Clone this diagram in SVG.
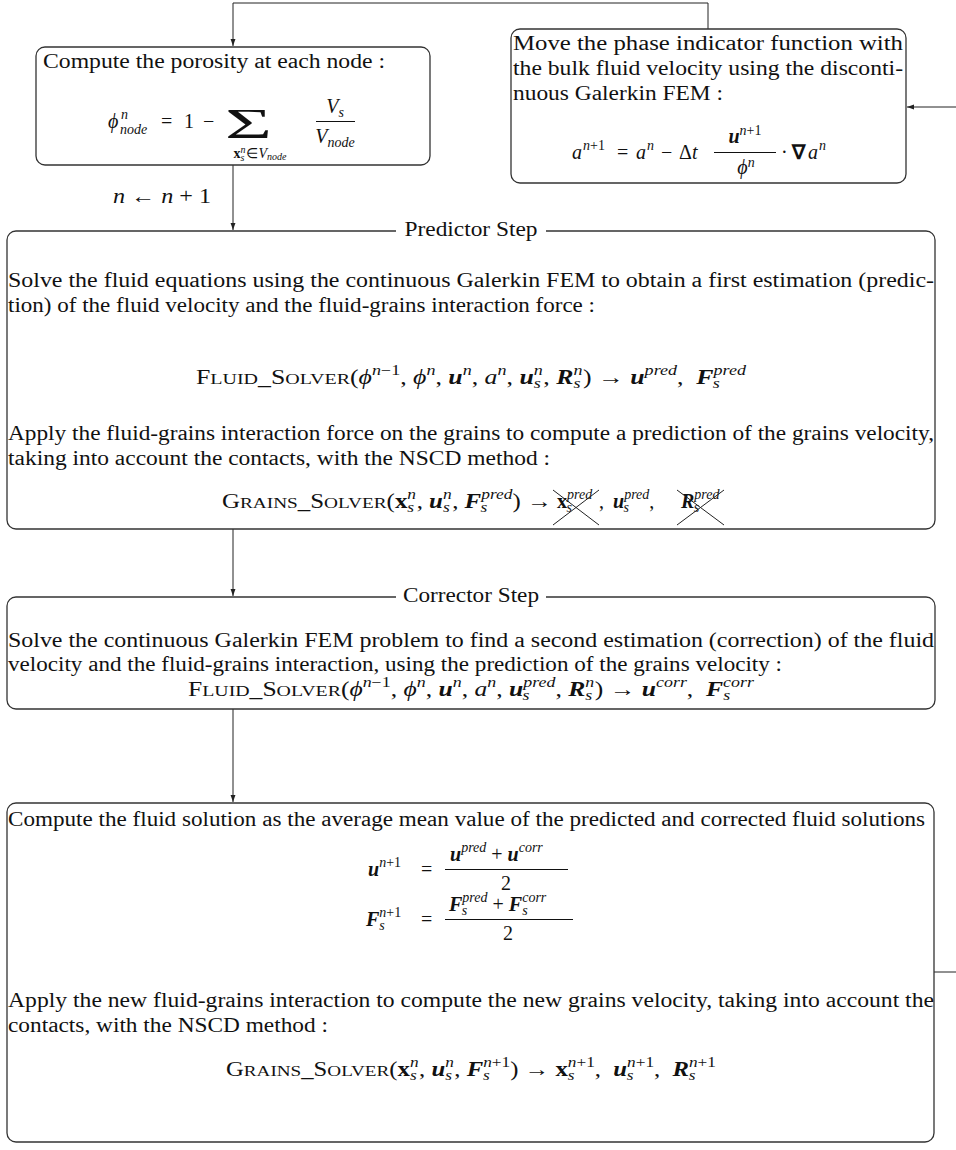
<svg xmlns="http://www.w3.org/2000/svg" width="956" height="1150" viewBox="0 0 956 1150">
<defs>
<style>
.box{fill:none;stroke:#333;stroke-width:1.3}
.conn{fill:none;stroke:#222;stroke-width:1}
.tx{font-family:"Liberation Serif","Times New Roman",serif;font-size:20px;fill:#111}
.mi{font-style:italic}
.bi{font-style:italic;font-weight:bold}
.bu{font-weight:bold}
.sc{font-size:15.5px}
.sp{font-size:14px}
.ss{font-size:10px}
.bar{stroke:#111;stroke-width:1}
.xo{stroke:#222;stroke-width:1}
.gap{fill:#fff}
</style>
<marker id="ah" viewBox="0 0 10 10" refX="10" refY="5" markerWidth="8" markerHeight="7" orient="auto" markerUnits="userSpaceOnUse"><path d="M0,1.5 L10,5 L0,8.5 z" fill="#222"/></marker>
</defs>
<rect width="956" height="1150" fill="#fff"/>

<g id="connectors">
<path class="conn" d="M708,29 V3 H233 V46" marker-end="url(#ah)"/>
<path class="conn" d="M233,165 V230" marker-end="url(#ah)"/>
<path class="conn" d="M233,529 V596" marker-end="url(#ah)"/>
<path class="conn" d="M233,709 V802" marker-end="url(#ah)"/>
<path class="conn" d="M934,972 H956"/>
<path class="conn" d="M956,107 H907" marker-end="url(#ah)"/>
<text class="tx" x="113" y="203" textLength="98" lengthAdjust="spacingAndGlyphs"><tspan class="mi">n</tspan> ← <tspan class="mi">n</tspan> + 1</text>
</g>

<g id="node-porosity">
<rect class="box" x="36" y="47" width="394" height="118" rx="9"/>
<text class="tx" x="43" y="68" textLength="342" lengthAdjust="spacingAndGlyphs">Compute the porosity at each node :</text>
<text class="tx mi" x="108" y="128">ϕ</text>
<text class="tx mi sp" x="121" y="119">n</text>
<text class="tx mi sp" x="120" y="134">node</text>
<text class="tx" x="161" y="128">=</text>
<text class="tx" x="184" y="128">1</text>
<text class="tx" x="203" y="128">−</text>
<text class="tx" x="225" y="138" style="font-size:42px" textLength="47" lengthAdjust="spacingAndGlyphs">Σ</text>
<text class="tx sp" x="260" y="158" text-anchor="middle"><tspan class="bu">x</tspan><tspan class="mi ss" dy="-5">n</tspan><tspan class="mi ss" dx="-5" dy="8">s</tspan><tspan dx="2" dy="-3">∈</tspan><tspan class="mi">V</tspan><tspan class="mi ss" dy="2">node</tspan></text>
<text class="tx mi" x="335" y="113" text-anchor="middle">V<tspan class="sp" dy="4">s</tspan></text>
<line class="bar" x1="316" y1="121.5" x2="355" y2="121.5"/>
<text class="tx mi" x="335" y="143" text-anchor="middle">V<tspan class="sp" dy="4">node</tspan></text>
</g>

<g id="node-phase">
<rect class="box" x="511" y="29" width="395" height="154" rx="9"/>
<text class="tx" x="513" y="50" textLength="390" lengthAdjust="spacingAndGlyphs">Move the phase indicator function with</text>
<text class="tx" x="513" y="75" textLength="390" lengthAdjust="spacingAndGlyphs">the bulk fluid velocity using the disconti-</text>
<text class="tx" x="513" y="100" textLength="210" lengthAdjust="spacingAndGlyphs">nuous Galerkin FEM :</text>
<text class="tx mi" x="572" y="159">a</text>
<text class="tx sp" x="583" y="150"><tspan class="mi">n</tspan>+1</text>
<text class="tx" x="617" y="159">=</text>
<text class="tx mi" x="636" y="159">a</text>
<text class="tx mi sp" x="647" y="150">n</text>
<text class="tx" x="661" y="159">−</text>
<text class="tx" x="679" y="159">Δ<tspan class="mi">t</tspan></text>
<text class="tx" x="745" y="143" text-anchor="middle"><tspan class="bi">u</tspan><tspan class="sp" dy="-8"><tspan class="mi">n</tspan>+1</tspan></text>
<line class="bar" x1="714" y1="152.5" x2="776" y2="152.5"/>
<text class="tx" x="746" y="174" text-anchor="middle"><tspan class="mi">ϕ</tspan><tspan class="mi sp" dy="-7">n</tspan></text>
<text class="tx" x="781" y="159">·</text>
<text class="tx bu" x="792" y="159">∇</text>
<text class="tx mi" x="808" y="159">a</text>
<text class="tx mi sp" x="819" y="150">n</text>
</g>

<g id="node-predictor">
<rect class="box" x="7" y="231" width="928" height="298" rx="9"/>
<rect class="gap" x="396" y="224" width="150" height="14"/>
<text class="tx" x="471" y="236" text-anchor="middle" textLength="133" lengthAdjust="spacingAndGlyphs">Predictor Step</text>
<text class="tx" x="8" y="287" textLength="926" lengthAdjust="spacingAndGlyphs">Solve the fluid equations using the continuous Galerkin FEM to obtain a first estimation (predic-</text>
<text class="tx" x="8" y="312" textLength="587" lengthAdjust="spacingAndGlyphs">tion) of the fluid velocity and the fluid-grains interaction force :</text>
<text class="tx" x="196" y="384" textLength="550" lengthAdjust="spacingAndGlyphs">F<tspan class="sc">LUID</tspan>_S<tspan class="sc">OLVER</tspan>(<tspan class="mi">ϕ</tspan><tspan class="sp" dy="-9"><tspan class="mi">n</tspan>−1</tspan><tspan dy="9">, </tspan><tspan class="mi">ϕ</tspan><tspan class="mi sp" dy="-9">n</tspan><tspan dy="9">, </tspan><tspan class="bi">u</tspan><tspan class="mi sp" dy="-9">n</tspan><tspan dy="9">, </tspan><tspan class="mi">a</tspan><tspan class="mi sp" dy="-9">n</tspan><tspan dy="9">, </tspan><tspan class="bi">u</tspan><tspan class="mi sp" dy="-9">n</tspan><tspan class="mi sp" dx="-7" dy="13">s</tspan><tspan dx="2" dy="-4">, </tspan><tspan class="bi">R</tspan><tspan class="mi sp" dy="-9">n</tspan><tspan class="mi sp" dx="-7" dy="13">s</tspan><tspan dx="2" dy="-4">) → </tspan><tspan class="bi">u</tspan><tspan class="mi sp" dy="-9">pred</tspan><tspan dy="9">, </tspan><tspan class="bi" dx="5">F</tspan><tspan class="mi sp" dy="-9">pred</tspan><tspan class="mi sp" dx="-25.7" dy="13">s</tspan></text>
<text class="tx" x="8" y="440" textLength="926" lengthAdjust="spacingAndGlyphs">Apply the fluid-grains interaction force on the grains to compute a prediction of the grains velocity,</text>
<text class="tx" x="8" y="465" textLength="542" lengthAdjust="spacingAndGlyphs">taking into account the contacts, with the NSCD method :</text>
<text class="tx" x="222" y="508" textLength="330" lengthAdjust="spacingAndGlyphs">G<tspan class="sc">RAINS</tspan>_S<tspan class="sc">OLVER</tspan>(<tspan class="bu">x</tspan><tspan class="mi sp" dy="-9">n</tspan><tspan class="mi sp" dx="-7" dy="13">s</tspan><tspan dx="2" dy="-4">, </tspan><tspan class="bi">u</tspan><tspan class="mi sp" dy="-9">n</tspan><tspan class="mi sp" dx="-7" dy="13">s</tspan><tspan dx="2" dy="-4">, </tspan><tspan class="bi">F</tspan><tspan class="mi sp" dy="-9">pred</tspan><tspan class="mi sp" dx="-25.7" dy="13">s</tspan><tspan dx="20.3" dy="-4">) →</tspan></text>
<text class="tx" x="557" y="508"><tspan class="bu">x</tspan><tspan class="mi sp" dy="-9">pred</tspan><tspan class="mi sp" dx="-25.7" dy="13">s</tspan></text>
<line class="xo" x1="553" y1="490" x2="599" y2="525"/>
<line class="xo" x1="553" y1="525" x2="599" y2="490"/>
<text class="tx" x="599" y="508">, <tspan class="bi" dx="4">u</tspan><tspan class="mi sp" dy="-9">pred</tspan><tspan class="mi sp" dx="-25.7" dy="13">s</tspan><tspan dx="20.3" dy="-4">,</tspan></text>
<text class="tx" x="681" y="508"><tspan class="bi">R</tspan><tspan class="mi sp" dy="-9">pred</tspan><tspan class="mi sp" dx="-25.7" dy="13">s</tspan></text>
<line class="xo" x1="677" y1="490" x2="724" y2="525"/>
<line class="xo" x1="677" y1="525" x2="724" y2="490"/>
</g>

<g id="node-corrector">
<rect class="box" x="7" y="597" width="928" height="112" rx="9"/>
<rect class="gap" x="396" y="590" width="150" height="14"/>
<text class="tx" x="471" y="602" text-anchor="middle" textLength="136" lengthAdjust="spacingAndGlyphs">Corrector Step</text>
<text class="tx" x="8" y="647" textLength="926" lengthAdjust="spacingAndGlyphs">Solve the continuous Galerkin FEM problem to find a second estimation (correction) of the fluid</text>
<text class="tx" x="8" y="671" textLength="774" lengthAdjust="spacingAndGlyphs">velocity and the fluid-grains interaction, using the prediction of the grains velocity :</text>
<text class="tx" x="188" y="696" textLength="566" lengthAdjust="spacingAndGlyphs">F<tspan class="sc">LUID</tspan>_S<tspan class="sc">OLVER</tspan>(<tspan class="mi">ϕ</tspan><tspan class="sp" dy="-9"><tspan class="mi">n</tspan>−1</tspan><tspan dy="9">, </tspan><tspan class="mi">ϕ</tspan><tspan class="mi sp" dy="-9">n</tspan><tspan dy="9">, </tspan><tspan class="bi">u</tspan><tspan class="mi sp" dy="-9">n</tspan><tspan dy="9">, </tspan><tspan class="mi">a</tspan><tspan class="mi sp" dy="-9">n</tspan><tspan dy="9">, </tspan><tspan class="bi">u</tspan><tspan class="mi sp" dy="-9">pred</tspan><tspan class="mi sp" dx="-25.7" dy="13">s</tspan><tspan dx="20.3" dy="-4">, </tspan><tspan class="bi">R</tspan><tspan class="mi sp" dy="-9">n</tspan><tspan class="mi sp" dx="-7" dy="13">s</tspan><tspan dx="2" dy="-4">) → </tspan><tspan class="bi">u</tspan><tspan class="mi sp" dy="-9">corr</tspan><tspan dy="9">, </tspan><tspan class="bi" dx="5">F</tspan><tspan class="mi sp" dy="-9">corr</tspan><tspan class="mi sp" dx="-24" dy="13">s</tspan></text>
</g>

<g id="node-update">
<rect class="box" x="7" y="803" width="927" height="339" rx="9"/>
<text class="tx" x="8" y="826" textLength="917" lengthAdjust="spacingAndGlyphs">Compute the fluid solution as the average mean value of the predicted and corrected fluid solutions</text>
<text class="tx" x="368" y="876"><tspan class="bi">u</tspan><tspan class="sp" dy="-9"><tspan class="mi">n</tspan>+1</tspan></text>
<text class="tx" x="421" y="876">=</text>
<text class="tx" x="450" y="861"><tspan class="bi">u</tspan><tspan class="mi sp" dy="-9">pred</tspan><tspan dy="9"> + </tspan><tspan class="bi">u</tspan><tspan class="mi sp" dy="-9">corr</tspan></text>
<line class="bar" x1="445" y1="869.5" x2="568" y2="869.5"/>
<text class="tx" x="506" y="890" text-anchor="middle">2</text>
<text class="tx" x="366" y="926"><tspan class="bi">F</tspan><tspan class="sp" dy="-9"><tspan class="mi">n</tspan>+1</tspan><tspan class="mi sp" dx="-22" dy="13">s</tspan></text>
<text class="tx" x="421" y="926">=</text>
<text class="tx" x="449" y="911"><tspan class="bi">F</tspan><tspan class="mi sp" dy="-9">pred</tspan><tspan class="mi sp" dx="-25.7" dy="13">s</tspan><tspan dx="20.3" dy="-4"> + </tspan><tspan class="bi">F</tspan><tspan class="mi sp" dy="-9">corr</tspan><tspan class="mi sp" dx="-24" dy="13">s</tspan></text>
<line class="bar" x1="445" y1="919.5" x2="573" y2="919.5"/>
<text class="tx" x="508" y="940" text-anchor="middle">2</text>
<text class="tx" x="8" y="1007" textLength="926" lengthAdjust="spacingAndGlyphs">Apply the new fluid-grains interaction to compute the new grains velocity, taking into account the</text>
<text class="tx" x="8" y="1032" textLength="320" lengthAdjust="spacingAndGlyphs">contacts, with the NSCD method :</text>
<text class="tx" x="226" y="1076" textLength="490" lengthAdjust="spacingAndGlyphs">G<tspan class="sc">RAINS</tspan>_S<tspan class="sc">OLVER</tspan>(<tspan class="bu">x</tspan><tspan class="mi sp" dy="-9">n</tspan><tspan class="mi sp" dx="-7" dy="13">s</tspan><tspan dx="2" dy="-4">, </tspan><tspan class="bi">u</tspan><tspan class="mi sp" dy="-9">n</tspan><tspan class="mi sp" dx="-7" dy="13">s</tspan><tspan dx="2" dy="-4">, </tspan><tspan class="bi">F</tspan><tspan class="sp" dy="-9"><tspan class="mi">n</tspan>+1</tspan><tspan class="mi sp" dx="-22" dy="13">s</tspan><tspan dx="16.5" dy="-4">) → </tspan><tspan class="bu">x</tspan><tspan class="sp" dy="-9"><tspan class="mi">n</tspan>+1</tspan><tspan class="mi sp" dx="-22" dy="13">s</tspan><tspan dx="16.5" dy="-4">, </tspan><tspan class="bi" dx="5">u</tspan><tspan class="sp" dy="-9"><tspan class="mi">n</tspan>+1</tspan><tspan class="mi sp" dx="-22" dy="13">s</tspan><tspan dx="16.5" dy="-4">, </tspan><tspan class="bi" dx="5">R</tspan><tspan class="sp" dy="-9"><tspan class="mi">n</tspan>+1</tspan><tspan class="mi sp" dx="-22" dy="13">s</tspan></text>
</g>
</svg>
